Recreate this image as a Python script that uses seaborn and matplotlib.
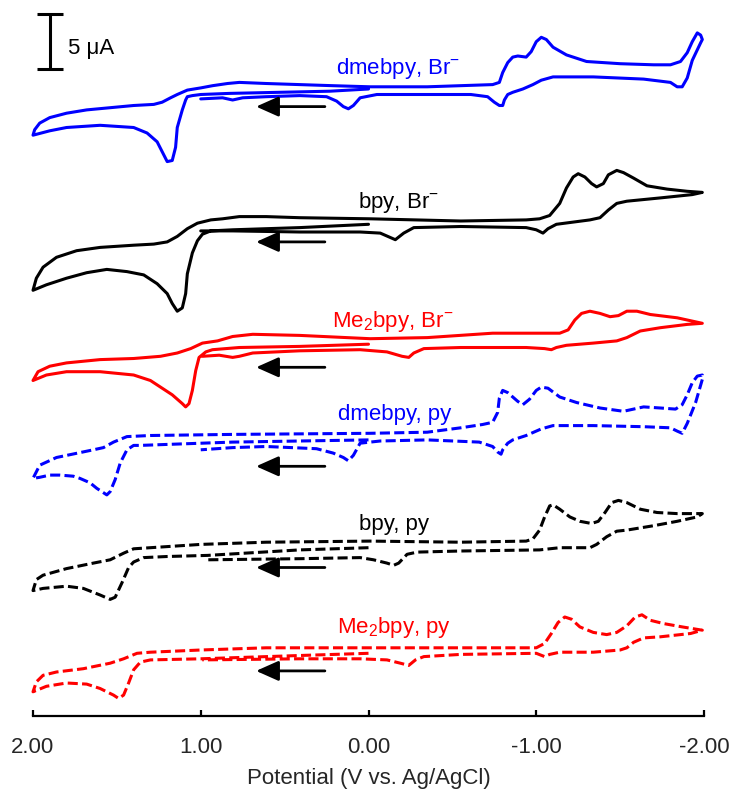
import matplotlib
matplotlib.use("Agg")
import matplotlib.pyplot as plt
import pandas as pd
import seaborn as sns

# ---------------- cyclic voltammograms ----------------
# potential in V vs. Ag/AgCl, current in uA (relative to the start of each scan)
# each trace: start at 0 V -> +2.0 V -> -2.0 V -> +1.0 V

dmebpy_br_E = [0.00, 0.23, 0.53, 0.83, 1.00, 1.05, 1.08, 1.09, 1.11, 1.14, 1.15, 1.17, 1.20, 1.23, 1.26, 1.32,
               1.40, 1.50, 1.60, 1.70, 1.80, 1.90, 2.00,
               1.99, 1.96, 1.90, 1.80, 1.68, 1.54, 1.40, 1.28, 1.23, 1.18, 1.14, 1.08, 1.00, 0.93, 0.84, 0.77,
               0.61, 0.41, 0.21, -0.01, -0.35, -0.74, -0.78, -0.80, -0.83, -0.86, -0.89, -0.94, -0.97, -1.00,
               -1.03, -1.06, -1.10, -1.18, -1.30, -1.50, -1.70, -1.80, -1.86, -1.90, -1.93, -1.96, -1.98, -1.99,
               -1.98, -1.93, -1.90, -1.87, -1.84, -1.80, -1.64, -1.34, -1.10, -1.03, -0.98, -0.92, -0.86, -0.83,
               -0.81, -0.80, -0.78, -0.75, -0.71, -0.61, -0.35, -0.05, 0.05, 0.09, 0.12, 0.15, 0.19, 0.25, 0.41,
               0.61, 0.75, 0.81, 0.87, 1.00]
dmebpy_br_I = [0.0, -0.2, -0.3, -0.4, -0.5, -0.6, -0.7, -1.0, -1.9, -3.5, -5.3, -6.5, -6.6, -5.7, -4.8, -4.0,
               -3.5, -3.4, -3.3, -3.4, -3.5, -3.8, -4.2,
               -3.7, -3.1, -2.6, -2.2, -1.9, -1.7, -1.5, -1.4, -1.2, -0.8, -0.5, -0.1, 0.1, 0.3, 0.5, 0.6,
               0.5, 0.4, 0.3, 0.2, 0.2, 0.4, 0.6, 1.5, 2.4, 2.9, 3.0, 2.9, 3.4, 4.3,
               4.7, 4.5, 3.8, 3.1, 2.5, 2.3, 2.2, 2.2, 2.5, 3.3, 4.3, 5.1, 4.9, 4.5,
               4.2, 2.6, 1.0, 0.2, 0.2, 0.6, 0.9, 1.1, 1.1, 0.8, 0.4, 0.0, -0.3, -0.5,
               -1.0, -1.5, -1.5, -1.2, -0.7, -0.5, -0.5, -0.5, -0.8, -1.5, -1.8, -1.6, -1.1, -0.7, -0.6,
               -0.7, -0.8, -1.0, -0.8, -0.9]

bpy_br_E = [0.00, 0.41, 0.81, 0.94, 0.99, 1.02, 1.05, 1.08, 1.09, 1.11, 1.14, 1.17, 1.20, 1.26, 1.34, 1.44,
            1.56, 1.68, 1.80, 1.92, 2.00,
            1.98, 1.94, 1.86, 1.74, 1.60, 1.40, 1.28, 1.20, 1.14, 1.08, 1.02, 0.94, 0.87, 0.77, 0.61, 0.41,
            -0.01, -0.55, -0.94, -1.02, -1.08, -1.14, -1.18, -1.22, -1.25, -1.29, -1.33, -1.36, -1.40, -1.43,
            -1.48, -1.52, -1.58, -1.66, -1.78, -1.90, -1.99,
            -1.93, -1.74, -1.54, -1.48, -1.43, -1.38, -1.32, -1.22, -1.12, -1.07, -1.04, -1.00, -0.94, -0.55,
            -0.27, -0.21, -0.16, -0.13, -0.07, 0.05, 0.41, 0.81, 1.00]
bpy_br_I = [0.0, -0.3, -0.5, -0.6, -0.9, -1.5, -2.6, -4.5, -6.3, -7.6, -7.9, -7.2, -6.3, -5.4, -4.6, -4.3,
            -4.1, -4.4, -4.9, -5.5, -6.0,
            -4.9, -3.9, -3.0, -2.4, -2.1, -1.9, -1.8, -1.6, -1.1, -0.4, 0.1, 0.4, 0.5, 0.7, 0.7, 0.6,
            0.5, 0.3, 0.4, 0.5, 0.8, 1.9, 3.3, 4.3, 4.6, 4.3, 3.7, 3.4, 3.7, 4.5,
            4.9, 4.7, 4.2, 3.5, 3.2, 3.0, 2.9,
            2.7, 2.4, 2.1, 1.9, 1.3, 0.6, 0.4, 0.2, 0.0, -0.4, -0.8, -0.5, -0.3, -0.2,
            -0.3, -0.8, -1.4, -1.2, -0.8, -0.7, -0.7, -0.6, -0.6]

me2bpy_br_E = [0.00, 0.41, 0.77, 0.93, 0.97, 1.01, 1.03, 1.05, 1.07, 1.09, 1.11, 1.17, 1.23, 1.30, 1.40, 1.60,
               1.80, 1.92, 2.00,
               1.97, 1.90, 1.80, 1.60, 1.40, 1.24, 1.14, 1.06, 0.99, 0.90, 0.81, 0.69, 0.41, -0.01, -0.35,
               -0.74, -1.14, -1.19, -1.23, -1.27, -1.32, -1.38, -1.44, -1.49, -1.54, -1.60, -1.68, -1.84, -1.99,
               -1.90, -1.74, -1.62, -1.54, -1.48, -1.34, -1.18, -1.12, -1.09, -1.05, -0.94, -0.55, -0.33,
               -0.27, -0.24, -0.20, -0.11, 0.05, 0.41, 0.69, 0.77, 0.81, 0.89, 0.99]
me2bpy_br_I = [0.0, -0.2, -0.3, -0.5, -0.7, -1.2, -2.4, -4.2, -5.4, -5.7, -5.4, -4.6, -4.0, -3.3, -2.8, -2.5,
               -2.5, -2.8, -3.3,
               -2.5, -2.0, -1.7, -1.4, -1.3, -1.1, -0.8, -0.4, 0.1, 0.3, 0.7, 0.9, 0.8, 0.5, 0.6,
               1.0, 1.0, 1.3, 2.2, 2.8, 3.0, 2.8, 2.5, 2.6, 3.0, 3.0, 2.7, 2.4, 1.9,
               1.8, 1.5, 1.2, 0.6, 0.3, 0.1, -0.1, -0.3, -0.5, -0.4, -0.3, -0.3, -0.4,
               -0.8, -1.2, -1.1, -0.7, -0.5, -0.6, -0.8, -1.1, -1.2, -1.0, -1.1]

dmebpy_py_E = [0.00, 0.41, 0.81, 1.18, 1.36, 1.40, 1.44, 1.48, 1.51, 1.54, 1.56, 1.58, 1.62, 1.66, 1.72, 1.76,
               1.84, 1.90, 1.96, 2.00,
               1.96, 1.86, 1.64, 1.58, 1.52, 1.44, 1.30, 0.81, -0.01, -0.35, -0.55, -0.68, -0.74, -0.77, -0.78,
               -0.80, -0.83, -0.89, -0.92, -0.96, -1.00, -1.03, -1.07, -1.14, -1.24, -1.38, -1.52, -1.64, -1.74,
               -1.83, -1.87, -1.90, -1.93, -1.96, -1.99,
               -1.99, -1.95, -1.90, -1.87, -1.84, -1.80, -1.64, -1.34, -1.10, -1.03, -0.94, -0.86, -0.83, -0.80,
               -0.79, -0.77, -0.74, -0.66, -0.35, -0.07, 0.05, 0.09, 0.12, 0.15, 0.21, 0.31, 0.61, 0.81, 1.00]
dmebpy_py_I = [0.0, -0.1, -0.2, -0.4, -0.5, -0.5, -0.9, -2.1, -3.6, -4.7, -5.0, -4.8, -4.4, -3.9, -3.5, -3.3,
               -3.2, -3.2, -3.4, -3.5,
               -2.3, -1.6, -0.9, -0.7, -0.2, 0.3, 0.4, 0.5, 0.6, 0.7, 1.1, 1.4, 1.6, 2.5, 3.8,
               4.5, 4.3, 3.5, 3.2, 3.7, 4.5, 4.8, 4.7, 3.9, 3.4, 2.9, 2.6, 3.0, 2.9,
               2.8, 3.2, 4.1, 5.2, 5.8, 5.9,
               5.5, 3.4, 1.5, 0.6, 0.8, 1.1, 1.2, 1.3, 1.3, 1.0, 0.4, 0.0, -0.3, -0.9,
               -1.3, -1.1, -0.6, -0.2, 0.0, -0.1, -0.3, -1.4, -1.9, -1.6, -1.2, -0.8, -0.6, -0.7, -0.9]

bpy_py_E = [0.00, 0.41, 0.96, 1.20, 1.34, 1.40, 1.43, 1.47, 1.51, 1.54, 1.60, 1.70, 1.80, 1.94, 2.00,
            1.98, 1.94, 1.80, 1.64, 1.54, 1.46, 1.40, 1.30, 1.00, 0.61, -0.01, -0.55, -0.94, -0.98, -1.02,
            -1.05, -1.08, -1.10, -1.14, -1.20, -1.26, -1.33, -1.37, -1.41, -1.45, -1.49, -1.54, -1.62, -1.72,
            -1.84, -1.99,
            -1.96, -1.84, -1.70, -1.54, -1.48, -1.42, -1.36, -1.32, -1.14, -1.02, -0.55, -0.29, -0.23, -0.18,
            -0.15, -0.11, -0.03, 0.05, 0.41, 0.96]
bpy_py_I = [0.0, -0.2, -0.7, -0.8, -0.9, -1.3, -1.8, -3.2, -4.5, -4.7, -4.3, -3.7, -3.5, -3.7, -3.9,
            -2.9, -2.5, -1.9, -1.4, -1.1, -0.5, -0.1, 0.0, 0.3, 0.5, 0.6, 0.5, 0.6, 0.8, 1.6,
            2.8, 3.8, 3.9, 3.5, 2.8, 2.4, 2.2, 2.4, 3.2, 4.1, 4.3, 4.1, 3.5, 3.2,
            3.1, 3.1,
            2.8, 2.4, 2.0, 1.6, 1.5, 1.0, 0.3, 0.0, 0.0, -0.2, -0.3, -0.4, -0.6, -1.4,
            -1.6, -1.4, -1.1, -0.9, -1.0, -1.1]

me2bpy_py_E = [0.00, 0.41, 1.00, 1.30, 1.36, 1.40, 1.43, 1.46, 1.49, 1.52, 1.60, 1.68, 1.80, 1.92, 2.00,
               1.98, 1.94, 1.86, 1.70, 1.54, 1.46, 1.38, 1.30, 1.00, 0.61, -0.01, -0.55, -1.00, -1.05, -1.09,
               -1.13, -1.17, -1.21, -1.26, -1.34, -1.42, -1.48, -1.54, -1.59, -1.63, -1.68, -1.76, -1.87, -1.99,
               -1.92, -1.74, -1.64, -1.58, -1.54, -1.50, -1.34, -1.14, -1.08, -1.05, -1.00, -0.55, -0.33,
               -0.28, -0.24, -0.19, -0.11, 0.05, 0.41, 0.99]
me2bpy_py_I = [0.0, -0.2, -0.5, -0.6, -0.8, -1.5, -2.7, -3.8, -4.1, -3.8, -3.2, -2.8, -2.7, -3.0, -3.5,
               -2.6, -2.0, -1.7, -1.4, -0.9, -0.5, 0.0, 0.1, 0.3, 0.5, 0.5, 0.5, 0.5, 0.9, 1.8,
               2.8, 3.3, 3.1, 2.4, 1.9, 1.7, 1.9, 2.5, 3.3, 3.5, 3.0, 2.7, 2.4, 2.1,
               1.8, 1.5, 1.4, 1.0, 0.5, 0.3, 0.1, 0.1, -0.1, -0.3, 0.0, -0.1, -0.3,
               -0.6, -1.1, -0.9, -0.6, -0.5, -0.5, -0.6]

trace_labels = ["dmebpy, Br$^{-}$", "bpy, Br$^{-}$", "Me$_2$bpy, Br$^{-}$",
                "dmebpy, py", "bpy, py", "Me$_2$bpy, py"]
trace_colors = ["#0000ff", "#000000", "#ff0000", "#0000ff", "#000000", "#ff0000"]
trace_dashed = [False, False, False, True, True, True]
trace_offsets = [57.0, 44.7, 33.8, 25.1, 15.3, 5.7]       # vertical stacking (uA)
label_pos = [(-0.175, 58.4), (-0.18, 46.2), (-0.145, 35.4),
             (-0.155, 26.9), (-0.15, 16.9), (-0.15, 7.5)]
arrow_y = [55.4, 43.1, 31.7, 22.7, 13.5, 4.1]
scale_bar_uA = 5

traces = [(dmebpy_br_E, dmebpy_br_I), (bpy_br_E, bpy_br_I), (me2bpy_br_E, me2bpy_br_I),
          (dmebpy_py_E, dmebpy_py_I), (bpy_py_E, bpy_py_I), (me2bpy_py_E, me2bpy_py_I)]

# ---------------- style ----------------
sns.set_theme(style="white")
plt.rcParams["font.family"] = ["Liberation Sans", "DejaVu Sans"]
plt.rcParams["mathtext.fontset"] = "custom"
plt.rcParams["mathtext.rm"] = "Liberation Sans"
plt.rcParams["mathtext.it"] = "Liberation Sans:italic"
plt.rcParams["mathtext.bf"] = "Liberation Sans:bold"
plt.rcParams["axes.unicode_minus"] = False

fig = plt.figure(figsize=(7.34, 7.91), dpi=100)
ax = fig.add_axes([33 / 734, 75 / 791, 671 / 734, 716 / 791])
ax.set_xlim(2.0, -2.0)
ax.set_ylim(0, 716 / 11)

for (E, I), off, col, dashed in zip(traces, trace_offsets, trace_colors, trace_dashed):
    df = pd.DataFrame({"E": E, "I": [v + off for v in I]})
    ls = (0, (3.3, 1.4)) if dashed else "-"
    sns.lineplot(data=df, x="E", y="I", sort=False, estimator=None, color=col,
                 lw=2.2, linestyle=ls, ax=ax, clip_on=False,
                 solid_joinstyle="round", dash_joinstyle="round", dash_capstyle="butt")

# trace labels
for text, (x, y), col in zip(trace_labels, label_pos, trace_colors):
    ax.text(x, y, text, color=col, fontsize=16, ha="center", va="baseline")

# scan direction arrows
for y in arrow_y:
    ax.annotate("", xy=(0.67, y), xytext=(0.26, y),
                arrowprops=dict(arrowstyle="-|>,head_length=1.37,head_width=0.61",
                                mutation_scale=10, lw=2.0, color="black",
                                shrinkA=0, shrinkB=0))

# current scale bar
bar_x, bar_top = 1.899, 63.8
ax.plot([bar_x, bar_x], [bar_top - scale_bar_uA, bar_top], color="black", lw=2.2, clip_on=False)
for yy in (bar_top - scale_bar_uA, bar_top):
    ax.plot([1.976, 1.821], [yy, yy], color="black", lw=2.2, clip_on=False, solid_capstyle="butt")
ax.text(1.79, 60.2, f"{scale_bar_uA} μA", fontsize=16, ha="left", va="baseline", color="black")

# axes
for side in ("left", "right", "top"):
    ax.spines[side].set_visible(False)
ax.spines["bottom"].set_color("black")
ax.spines["bottom"].set_linewidth(1.6)
ax.set_yticks([])
ax.set_xticks([2, 1, 0, -1, -2])
ax.set_xticklabels(["2.00", "1.00", "0.00", "-1.00", "-2.00"])
ax.tick_params(axis="x", direction="in", length=4, width=1.6, color="black",
               labelsize=16, pad=15, bottom=True)
ax.set_xlabel("Potential (V vs. Ag/AgCl)", fontsize=16, labelpad=7)
ax.set_ylabel("")
ax.grid(False)

fig.savefig("out.png", dpi=100)
